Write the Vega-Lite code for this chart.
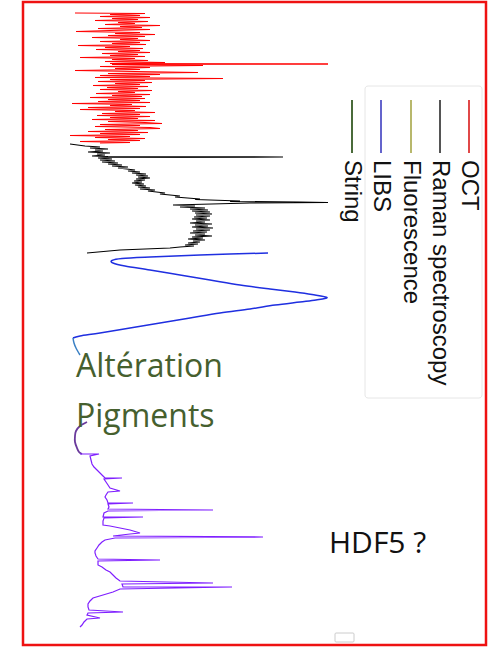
{
  "$schema": "https://vega.github.io/schema/vega-lite/v6.json",
  "width": 492,
  "height": 649,
  "autosize": {"type": "fit", "contains": "padding"},
  "padding": {"left": 23, "top": 2, "right": 6, "bottom": 4},
  "background": "white",
  "config": {"view": {"stroke": "#ee1111", "strokeWidth": 2.5}},
  "datasets": {
    "legendBox": [{"v": 365, "v2": 482, "p": 86, "p2": 398}],
    "smallBox": [{"v": 335, "v2": 354, "p": 633, "p2": 642}],
    "oct": [
      {"v":75,"p":13},{"v":145,"p":13.5},{"v":110,"p":14.5},{"v":140,"p":15.5},{"v":100,"p":16.5},{"v":150,"p":17.5},{"v":112,"p":18.5},{"v":138,"p":19.5},{"v":95,"p":20.5},{"v":148,"p":21.5},
      {"v":118,"p":22.5},{"v":135,"p":23.5},{"v":105,"p":24.5},{"v":160,"p":25.5},{"v":120,"p":26.5},{"v":142,"p":27.5},{"v":98,"p":28.5},{"v":150,"p":29.5},{"v":110,"p":30.5},{"v":76,"p":31.5},
      {"v":140,"p":32.5},{"v":115,"p":33.5},{"v":155,"p":34.5},{"v":108,"p":35.5},{"v":145,"p":36.5},{"v":92,"p":37.5},{"v":138,"p":38.5},{"v":120,"p":39.5},{"v":150,"p":40.5},{"v":100,"p":41.5},
      {"v":140,"p":42.5},{"v":112,"p":43.5},{"v":146,"p":44.5},{"v":78,"p":45.5},{"v":130,"p":46.5},{"v":105,"p":47.5},{"v":143,"p":48.5},{"v":96,"p":49.5},{"v":140,"p":50.5},{"v":118,"p":51.5},
      {"v":150,"p":52.5},{"v":102,"p":53.5},{"v":138,"p":54.5},{"v":110,"p":55.5},{"v":145,"p":56.5},{"v":80,"p":57.5},{"v":135,"p":58.5},{"v":112,"p":59.5},{"v":148,"p":60.5},{"v":105,"p":61.5},
      {"v":165,"p":62.5},{"v":110,"p":63.5},{"v":328,"p":64},{"v":112,"p":64.5},{"v":203,"p":65.5},{"v":100,"p":66.5},{"v":150,"p":67.5},{"v":115,"p":68.5},{"v":140,"p":69.5},{"v":75,"p":70.5},
      {"v":135,"p":71.5},{"v":198,"p":72.5},{"v":108,"p":73.5},{"v":160,"p":74.5},{"v":100,"p":75.5},{"v":150,"p":76.5},{"v":95,"p":77.5},{"v":223,"p":78.5},{"v":110,"p":79.5},{"v":145,"p":80.5},
      {"v":98,"p":81.5},{"v":152,"p":82.5},{"v":115,"p":83.5},{"v":140,"p":84.5},{"v":93,"p":85.5},{"v":148,"p":86.5},{"v":107,"p":87.5},{"v":138,"p":88.5},{"v":100,"p":89.5},{"v":152,"p":90.5},
      {"v":118,"p":91.5},{"v":135,"p":92.5},{"v":96,"p":93.5},{"v":150,"p":94.5},{"v":112,"p":95.5},{"v":142,"p":96.5},{"v":90,"p":97.5},{"v":145,"p":98.5},{"v":108,"p":99.5},{"v":140,"p":100.5},
      {"v":98,"p":101.5},{"v":150,"p":102.5},{"v":72,"p":103.5},{"v":132,"p":104.5},{"v":110,"p":105.5},{"v":146,"p":106.5},{"v":88,"p":107.5},{"v":140,"p":108.5},{"v":80,"p":109.5},{"v":135,"p":110.5},
      {"v":115,"p":111.5},{"v":155,"p":112.5},{"v":102,"p":113.5},{"v":140,"p":114.5},{"v":97,"p":115.5},{"v":150,"p":116.5},{"v":110,"p":117.5},{"v":138,"p":118.5},{"v":92,"p":119.5},{"v":155,"p":120.5},
      {"v":108,"p":121.5},{"v":145,"p":122.5},{"v":162,"p":123.5},{"v":100,"p":124.5},{"v":140,"p":125.5},{"v":95,"p":126.5},{"v":150,"p":127.5},{"v":160,"p":128.5},{"v":105,"p":129.5},{"v":138,"p":130.5},
      {"v":88,"p":131.5},{"v":148,"p":132.5},{"v":100,"p":133.5},{"v":140,"p":134.5},{"v":70,"p":135.5},{"v":130,"p":136.5},{"v":95,"p":137.5},{"v":145,"p":138.5},{"v":108,"p":139.5},{"v":140,"p":140.5},
      {"v":80,"p":141.5},{"v":130,"p":142.5},{"v":100,"p":143}
    ],
    "raman": [
      {"v":70,"p":144},{"v":85,"p":146},{"v":100,"p":147},{"v":90,"p":148},{"v":108,"p":149},{"v":95,"p":150},{"v":103,"p":151},{"v":88,"p":152},{"v":110,"p":153},{"v":97,"p":154},
      {"v":105,"p":155},{"v":92,"p":156},{"v":108,"p":156.5},{"v":283,"p":157},{"v":110,"p":157.5},{"v":98,"p":158},{"v":112,"p":159},{"v":100,"p":160},{"v":115,"p":161},{"v":102,"p":162},
      {"v":118,"p":163},{"v":108,"p":164},{"v":122,"p":165},{"v":112,"p":166},{"v":128,"p":167},{"v":118,"p":168},{"v":135,"p":170},{"v":128,"p":171},{"v":140,"p":172},{"v":132,"p":173},
      {"v":146,"p":174},{"v":136,"p":175},{"v":148,"p":176},{"v":138,"p":177},{"v":150,"p":178},{"v":136,"p":179},{"v":145,"p":180},{"v":134,"p":181},{"v":142,"p":182},{"v":132,"p":183},
      {"v":144,"p":184},{"v":135,"p":185},{"v":146,"p":186},{"v":138,"p":187},{"v":150,"p":188},{"v":140,"p":189},{"v":155,"p":190},{"v":148,"p":191},{"v":165,"p":193},{"v":160,"p":194},
      {"v":180,"p":196},{"v":175,"p":197},{"v":200,"p":199},{"v":195,"p":199.5},{"v":240,"p":201},{"v":230,"p":201.5},{"v":300,"p":202},{"v":328,"p":202.5},{"v":250,"p":203},{"v":173,"p":205},
      {"v":195,"p":206},{"v":180,"p":207},{"v":205,"p":208},{"v":190,"p":209},{"v":208,"p":210},{"v":192,"p":211},{"v":210,"p":212},{"v":195,"p":213},{"v":212,"p":214},{"v":196,"p":215},
      {"v":210,"p":216},{"v":194,"p":217},{"v":207,"p":218},{"v":192,"p":219},{"v":210,"p":220},{"v":196,"p":221},{"v":205,"p":222},{"v":190,"p":223},{"v":212,"p":224},{"v":195,"p":225},
      {"v":208,"p":226},{"v":192,"p":227},{"v":213,"p":228},{"v":196,"p":229},{"v":210,"p":230},{"v":193,"p":231},{"v":207,"p":232},{"v":190,"p":233},{"v":205,"p":234},{"v":195,"p":235},
      {"v":212,"p":236},{"v":192,"p":237},{"v":203,"p":238},{"v":188,"p":239},{"v":205,"p":240},{"v":193,"p":241},{"v":200,"p":242},{"v":188,"p":243},{"v":198,"p":244},{"v":185,"p":245},
      {"v":194,"p":246},{"v":180,"p":247},{"v":170,"p":248},{"v":120,"p":250},{"v":87,"p":253}
    ],
    "libs": [
      {"v":268,"p":253},{"v":200,"p":255},{"v":150,"p":257},{"v":122,"p":258.5},{"v":112,"p":260.5},{"v":113,"p":263},{"v":125,"p":266},{"v":150,"p":270},{"v":180,"p":275},{"v":210,"p":280},
      {"v":240,"p":285},{"v":270,"p":289},{"v":295,"p":292},{"v":312,"p":294.5},{"v":327,"p":297.5},{"v":316,"p":300},{"v":300,"p":302},
      {"v":275,"p":305},{"v":250,"p":309},{"v":220,"p":313},{"v":190,"p":318},{"v":160,"p":323},{"v":130,"p":328},{"v":100,"p":333},{"v":80,"p":336},{"v":73,"p":338}
    ],
    "steel": [{"v":73,"p":338},{"v":74,"p":343},{"v":76,"p":348},{"v":80,"p":355}],
    "darkPurple": [{"v":87,"p":422},{"v":80,"p":426},{"v":76,"p":431},{"v":75,"p":436},{"v":75,"p":442},{"v":77,"p":448},{"v":79,"p":452},{"v":82,"p":454}],
    "violet": [
      {"v":80,"p":454},{"v":99,"p":454},{"v":90,"p":456},{"v":91,"p":460},{"v":92,"p":464},{"v":94,"p":467},{"v":97,"p":470},{"v":100,"p":473},{"v":103,"p":476},{"v":105,"p":478},
      {"v":122,"p":478},{"v":104,"p":479},{"v":106,"p":482},{"v":108,"p":485},{"v":110,"p":488},{"v":120,"p":491},{"v":108,"p":492},{"v":106,"p":495},{"v":105,"p":497},{"v":107,"p":500},
      {"v":108,"p":503},{"v":133,"p":503},{"v":108,"p":504},{"v":109,"p":507},{"v":108,"p":509},{"v":213,"p":510},{"v":108,"p":511},{"v":104,"p":513},{"v":103,"p":517},{"v":143,"p":517},
      {"v":104,"p":518},{"v":103,"p":521},{"v":103,"p":525},{"v":110,"p":526},{"v":120,"p":528},{"v":130,"p":530},{"v":140,"p":533},{"v":130,"p":534},{"v":113,"p":536},{"v":263,"p":537},
      {"v":115,"p":538},{"v":105,"p":540},{"v":102,"p":542},{"v":99,"p":545},{"v":97,"p":548},{"v":95,"p":551},{"v":95,"p":553},{"v":96,"p":556},{"v":98,"p":559},{"v":160,"p":560},
      {"v":98,"p":561},{"v":98,"p":565},{"v":102,"p":567},{"v":106,"p":570},{"v":110,"p":572},{"v":113,"p":575},{"v":116,"p":578},{"v":120,"p":581},{"v":213,"p":583},{"v":122,"p":584},
      {"v":123,"p":587},{"v":232,"p":587},{"v":120,"p":589},{"v":113,"p":592},{"v":103,"p":595},{"v":93,"p":598},{"v":90,"p":601},{"v":88,"p":604},{"v":88,"p":607},{"v":89,"p":610},
      {"v":123,"p":612},{"v":88,"p":613},{"v":87,"p":615},{"v":100,"p":618},{"v":87,"p":619},{"v":84,"p":622},{"v":82,"p":625},{"v":80,"p":627}
    ],
    "legendItems": [
      {"name":"OCT","v":469,"p":100,"p2":153,"pt":160},
      {"name":"Raman spectroscopy","v":440,"p":100,"p2":153,"pt":160},
      {"name":"Fluorescence","v":411,"p":100,"p2":153,"pt":160},
      {"name":"LIBS","v":381,"p":100,"p2":153,"pt":160},
      {"name":"String","v":352,"p":100,"p2":153,"pt":160}
    ],
    "notes": [
      {"t":"Altération","v":76,"p":377},
      {"t":"Pigments","v":76,"p":427}
    ],
    "hdf": [{"t":"HDF5 ?","v":329,"p":553}]
  },
  "encoding": {
    "x": {"field": "v", "type": "quantitative", "scale": {"domain": [23, 486], "nice": false, "zero": false}, "axis": null},
    "y": {"field": "p", "type": "quantitative", "scale": {"domain": [2, 645], "reverse": true, "nice": false, "zero": false}, "axis": null}
  },
  "layer": [
    {
      "data": {"name": "legendBox"},
      "mark": {"type": "rect", "fill": "white", "stroke": "#e6e6e6", "strokeWidth": 1, "cornerRadius": 3},
      "encoding": {"x2": {"field": "v2"}, "y2": {"field": "p2"}}
    },
    {
      "data": {"name": "smallBox"},
      "mark": {"type": "rect", "fill": "white", "stroke": "#cccccc", "strokeWidth": 1, "cornerRadius": 1},
      "encoding": {"x2": {"field": "v2"}, "y2": {"field": "p2"}}
    },
    {
      "data": {"name": "oct"},
      "mark": {"type": "line", "color": "#ff0000", "strokeWidth": 1},
      "encoding": {"order": {"value": null}}
    },
    {
      "data": {"name": "raman"},
      "mark": {"type": "line", "color": "#000000", "strokeWidth": 1.1},
      "encoding": {"order": {"value": null}}
    },
    {
      "data": {"name": "libs"},
      "mark": {"type": "line", "color": "#1f2fe0", "strokeWidth": 1.5, "interpolate": "cardinal"},
      "encoding": {"order": {"value": null}}
    },
    {
      "data": {"name": "steel"},
      "mark": {"type": "line", "color": "#3a80c4", "strokeWidth": 1.5, "interpolate": "cardinal"},
      "encoding": {"order": {"value": null}}
    },
    {
      "data": {"name": "darkPurple"},
      "mark": {"type": "line", "color": "#6a3a9c", "strokeWidth": 1.8, "interpolate": "cardinal"},
      "encoding": {"order": {"value": null}}
    },
    {
      "data": {"name": "violet"},
      "mark": {"type": "line", "color": "#7f1fff", "strokeWidth": 1.2},
      "encoding": {"order": {"value": null}}
    },
    {
      "data": {"name": "legendItems"},
      "mark": {"type": "rule", "strokeWidth": 2},
      "encoding": {
        "y2": {"field": "p2"},
        "color": {
          "field": "name", "type": "nominal", "legend": null,
          "scale": {
            "domain": ["OCT", "Raman spectroscopy", "Fluorescence", "LIBS", "String"],
            "range": ["#e04848", "#555555", "#b8b86c", "#6464cc", "#4a6b3a"]
          }
        }
      }
    },
    {
      "data": {"name": "legendItems"},
      "mark": {"type": "text", "angle": 90, "align": "left", "baseline": "middle", "font": "Liberation Sans", "fontSize": 24, "color": "#111111"},
      "encoding": {
        "y": {"field": "pt", "type": "quantitative"},
        "text": {"field": "name"}
      }
    },
    {
      "data": {"name": "notes"},
      "mark": {"type": "text", "align": "left", "baseline": "alphabetic", "font": "Open Sans", "fontSize": 32, "color": "#46602e"},
      "encoding": {"text": {"field": "t"}}
    },
    {
      "data": {"name": "hdf"},
      "mark": {"type": "text", "align": "left", "baseline": "alphabetic", "font": "Open Sans", "fontSize": 30, "color": "#111111"},
      "encoding": {"text": {"field": "t"}}
    }
  ]
}
